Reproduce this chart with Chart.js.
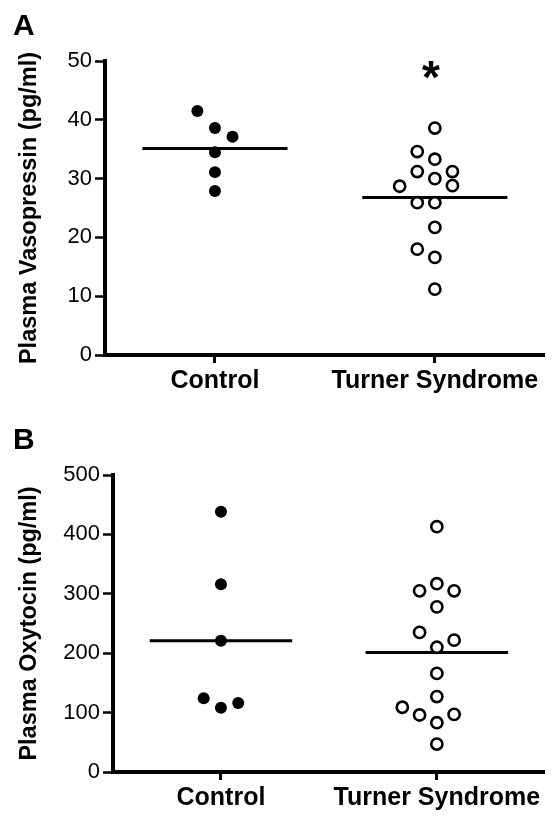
<!DOCTYPE html>
<html>
<head>
<meta charset="utf-8">
<script src="https://cdn.jsdelivr.net/npm/chart.js@4.4.0/dist/chart.umd.min.js"></script>
<style>
  body{margin:0;background:#fff;}
  .panel{position:absolute;left:0;width:553px;}
  #panelA{top:0;height:400px}
  #panelB{top:400px;height:417px}
</style>
</head>
<body>
<div class="panel" id="panelA"><canvas id="chartA" width="553" height="400"></canvas></div>
<div class="panel" id="panelB"><canvas id="chartB" width="553" height="417"></canvas></div>
<script>
// groups on the x axis (placed at x = 1, 2)
const groups = ['Control', 'Turner Syndrome'];

// panel A - plasma vasopressin (pg/ml)
const vasoControl = [41.5, 38.6, 37.1, 34.5, 31.1, 27.9];
const vasoControlJitter = [-0.08, 0, 0.08, 0, 0, 0];
const vasoTurner = [38.6, 34.6, 33.3, 31.2, 31.2, 30.0, 28.8, 28.7, 25.9, 25.9, 21.7, 18.0, 16.6, 11.2];
const vasoTurnerJitter = [0, -0.08, 0, -0.08, 0.08, 0, 0.08, -0.16, -0.08, 0, 0, -0.08, 0, 0];
const vasoMedian = [35.1, 26.8];
const vasoSig = ['', '*'];
const vasoSigLevel = 48.5;
const vasoTicks = [0, 10, 20, 30, 40, 50];

// panel B - plasma oxytocin (pg/ml)
const oxyControl = [438, 316, 221, 124, 116, 108];
const oxyControlJitter = [0, 0, 0, -0.08, 0.08, 0];
const oxyTurner = [413, 317, 305, 305, 278, 235, 222, 210, 166, 127, 109, 96, 97, 83, 47];
const oxyTurnerJitter = [0, 0, -0.08, 0.08, 0, -0.08, 0.08, 0, 0, 0, -0.16, -0.08, 0.08, 0, 0];
const oxyMedian = [221, 201];
const oxyTicks = [0, 100, 200, 300, 400, 500];

const FONT = '"Liberation Sans", Arial, Helvetica, sans-serif';
Chart.defaults.font.family = FONT;
Chart.defaults.color = '#000';

function pts(vals, jit, pos){ return vals.map((v,i)=>({x:pos + jit[i], y:v})) }
function medianSets(meds){
  return meds.map((m,i)=>({ type:'line', data:[{x:i+1-0.33,y:m},{x:i+1+0.33,y:m}], borderColor:'#000', borderWidth:3, pointRadius:0, showLine:true, fill:false }));
}

// panel letter + significance mark
const decor = {
  id:'decor',
  afterDraw(chart, args, o){
    const ctx = chart.ctx; ctx.save(); ctx.fillStyle='#000';
    ctx.font = 'bold 30px ' + FONT; ctx.textAlign='left'; ctx.textBaseline='alphabetic';
    ctx.fillText(o.letter, 13, o.letterY);
    if(o.sig){
      const xs = chart.scales.x, ys = chart.scales.y;
      ctx.font = 'bold 46px ' + FONT; ctx.textAlign='center';
      o.sig.forEach((s,i)=>{
        if(!s) return;
        const m = ctx.measureText(s);
        const cy = ys.getPixelForValue(o.sigLevel);
        ctx.fillText(s, xs.getPixelForValue(i+1) - 4, cy + (m.actualBoundingBoxAscent - m.actualBoundingBoxDescent)/2);
      });
    }
    ctx.restore();
  }
};

function makeChart(id, o){
  return new Chart(document.getElementById(id), {
    type:'scatter',
    data:{ datasets:[
      { data: pts(o.control, o.controlJitter, 1), pointRadius:6, pointBackgroundColor:'#000', pointBorderColor:'#000', pointBorderWidth:0 },
      { data: pts(o.turner, o.turnerJitter, 2), pointRadius:5.6, pointBackgroundColor:'#fff', pointBorderColor:'#000', pointBorderWidth:2.6 },
      ...medianSets(o.median)
    ]},
    options:{
      responsive:false, animation:false, devicePixelRatio:1,
      layout:{ padding:{ top:o.top, right:0, bottom:0, left:0 } },
      plugins:{ legend:{display:false}, tooltip:{enabled:false}, decor:{ letter:o.letter, letterY:o.letterY, sig:o.sig, sigLevel:o.sigLevel } },
      scales:{
        x:{ type:'linear', min:0.5, max:2.5,
          afterBuildTicks: s=>{ s.ticks = groups.map((g,i)=>({value:i+1})) },
          ticks:{ callback:v=>groups[Math.round(v)-1], font:{size:25, weight:'bold'}, color:'#000', padding:3, maxRotation:0, autoSkip:false },
          grid:{ drawOnChartArea:false, tickLength:8, tickWidth:3, tickColor:'#000' },
          border:{ color:'#000', width:4 },
          afterFit: s=>{ s.height = 45 } },
        y:{ min:o.ticks[0], max:o.ticks[o.ticks.length-1],
          afterBuildTicks: s=>{ s.ticks = o.ticks.map(v=>({value:v})) },
          ticks:{ font:{size:22}, color:'#000', padding:3 },
          grid:{ drawOnChartArea:false, tickLength:10, tickWidth:2.5, tickColor:'#000' },
          border:{ color:'#000', width:4 },
          title:{ display:true, text:o.title, font:{size:23.5, weight:'bold'}, color:'#000', padding:{top:15, bottom:0} },
          afterFit: s=>{ s.width = o.left } }
      }
    },
    plugins:[decor]
  });
}

makeChart('chartA', { control:vasoControl, controlJitter:vasoControlJitter, turner:vasoTurner, turnerJitter:vasoTurnerJitter,
  median:vasoMedian, ticks:vasoTicks, title:'Plasma Vasopressin (pg/ml)', top:61, left:105, letter:'A', letterY:35, sig:vasoSig, sigLevel:vasoSigLevel });
makeChart('chartB', { control:oxyControl, controlJitter:oxyControlJitter, turner:oxyTurner, turnerJitter:oxyTurnerJitter,
  median:oxyMedian, ticks:oxyTicks, title:'Plasma Oxytocin (pg/ml)', top:75, left:113, letter:'B', letterY:49 });
</script>
</body>
</html>
